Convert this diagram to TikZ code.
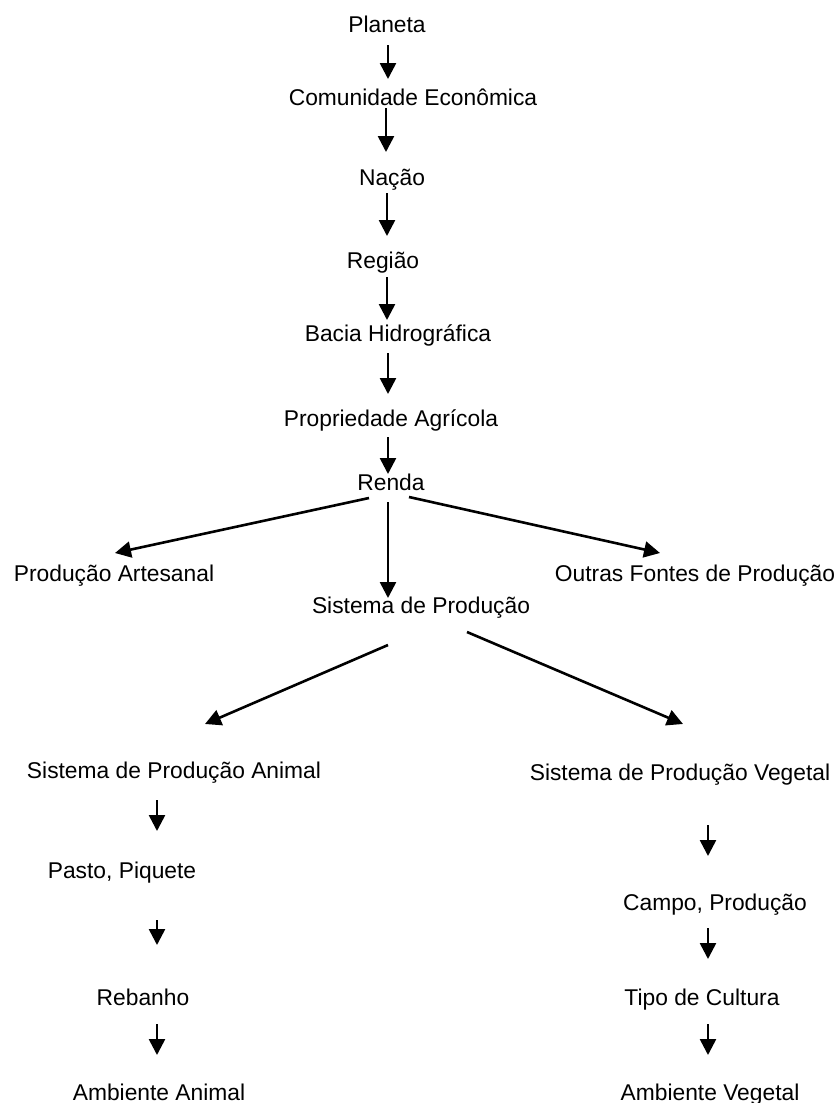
\documentclass[tikz,border=0pt]{standalone}
\usepackage{fontspec}
\setmainfont{Liberation Sans}
\usetikzlibrary{arrows.meta}

\tikzset{
  rotulo/.style={inner sep=0pt, text height=16.4pt, text depth=0pt,
    font=\fontsize{22.8}{26}\selectfont},
  seta/.style={line width=2.6pt, -{Triangle[width=16pt,length=16pt]}}
}

\begin{document}
\begin{tikzpicture}[x=1pt, y=-1pt]
    \useasboundingbox (0,0) rectangle (838,1103);
    % niveis de cima
    \node[rotulo] (planeta)   at (387,24)  {Planeta};
    \node[rotulo] (comunidade) at (413,97) {Comunidade Econômica};
    \node[rotulo] (nacao)     at (392,177) {Nação};
    \node[rotulo] (regiao)    at (383,260) {Região};
    \node[rotulo] (bacia)     at (398,333) {Bacia Hidrográfica};
    \node[rotulo] (propriedade) at (391,418) {Propriedade Agrícola};
    \node[rotulo] (renda)     at (391,482) {Renda};
    \node[rotulo] (artesanal) at (114,573) {Produção Artesanal};
    \node[rotulo] (outras)    at (695,573) {Outras Fontes de Produção};
    \node[rotulo] (sistema)   at (421,605) {Sistema de Produção};
    % ramo animal
    \node[rotulo] (animal)    at (174,770) {Sistema de Produção Animal};
    \node[rotulo] (pasto)     at (122,870) {Pasto, Piquete};
    \node[rotulo] (rebanho)   at (143,997) {Rebanho};
    \node[rotulo] (ambanimal) at (159,1092) {Ambiente Animal};
    % ramo vegetal
    \node[rotulo] (vegetal)   at (680,772) {Sistema de Produção Vegetal};
    \node[rotulo] (campo)     at (715,902) {Campo, Produção};
    \node[rotulo] (cultura)   at (702,997) {Tipo de Cultura};
    \node[rotulo] (ambvegetal) at (710,1092) {Ambiente Vegetal};
    % setas
    \foreach \n/\xa/\ya/\xb/\yb in {
        s1/388/45/388/79, s2/386/108/386/152, s3/387/193/387/236,
        s4/387/277/387/320, s5/388/353/388/394, s6/388/437/388/474,
        s7/369/498/115/553, s8/388/502/388/598, s9/409/497/660/553,
        s10/388/645/205/724, s11/467/632/683/724,
        s12/157/800/157/831, s13/157/920/157/945, s14/157/1024/157/1055,
        s15/708/825/708/856, s16/708/928/708/959, s17/708/1024/708/1055} {
        \coordinate (\n a) at (\xa,\ya);
        \coordinate (\n b) at (\xb,\yb);
        \draw[seta] (\n a) -- (\n b);
    }
\end{tikzpicture}
\end{document}
